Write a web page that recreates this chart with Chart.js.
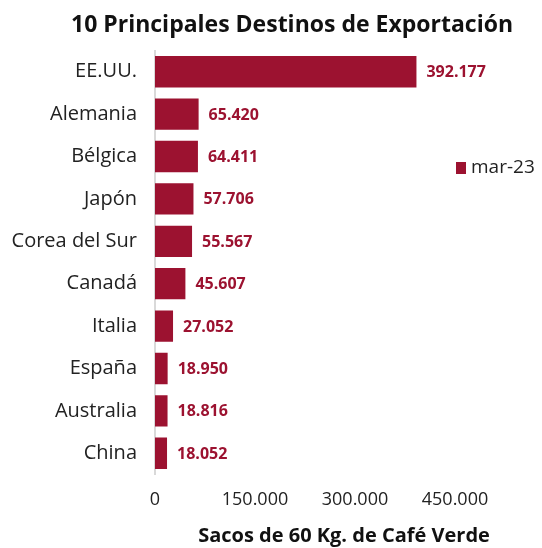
<!DOCTYPE html>
<html>
<head>
<meta charset="utf-8">
<script src="https://cdn.jsdelivr.net/npm/chart.js@4.4.0/dist/chart.umd.min.js"></script>
<style>
html,body{margin:0;padding:0;background:#fff;}
#wrap{width:542px;height:548px;position:relative;}
</style>
</head>
<body>
<div id="wrap"><canvas id="c"></canvas></div>
<script>
const categories = ["EE.UU.", "Alemania", "Bélgica", "Japón", "Corea del Sur", "Canadá", "Italia", "España", "Australia", "China"];
const seriesName = "mar-23";
const values = [392177, 65420, 64411, 57706, 55567, 45607, 27052, 18950, 18816, 18052];
const xTicks = [0, 150000, 300000, 450000];
const titleText = "10 Principales Destinos de Exportación";
const xTitle = "Sacos de 60 Kg. de Café Verde";

const BAR = "#9C1230";
const fmt = v => v.toString().replace(/\B(?=(\d{3})+(?!\d))/g, ".");

const labelPlugin = {
  id: "valueLabels",
  afterDatasetsDraw(chart) {
    const ctx = chart.ctx;
    const meta = chart.getDatasetMeta(0);
    ctx.save();
    ctx.fillStyle = BAR;
    ctx.font = "bold 16px 'Open Sans'";
    ctx.textAlign = "left";
    ctx.textBaseline = "middle";
    meta.data.forEach((bar, i) => {
      ctx.fillText(fmt(values[i]), bar.x + 10, bar.y + 1);
    });
    ctx.restore();
  }
};

const legendPlugin = {
  id: "sideLegend",
  afterDraw(chart) {
    const ctx = chart.ctx;
    const a = chart.chartArea;
    const x = a.right + 1;
    const y = 168;
    ctx.save();
    ctx.fillStyle = BAR;
    ctx.fillRect(x, y - 6, 10, 12);
    ctx.fillStyle = "#222";
    ctx.font = "19px 'Open Sans'";
    ctx.textAlign = "left";
    ctx.textBaseline = "middle";
    ctx.fillText(chart.data.datasets[0].label, x + 15, y);
    ctx.restore();
  }
};

const titleShift = {
  id: "titleShift",
  afterLayout(chart) {
    const t = chart.titleBlock;
    if (t) { t.left = 42; t.right = 542; }
    const sx = chart.scales.x;
    if (sx && !sx._shifted) {
      const orig = sx.drawTitle.bind(sx);
      sx.drawTitle = function () {
        const ctx = this.ctx;
        ctx.save();
        ctx.translate(39, 0);
        orig();
        ctx.restore();
      };
      sx._shifted = true;
    }
  }
};

new Chart(document.getElementById("c"), {
  type: "bar",
  data: {
    labels: categories,
    datasets: [{
      label: seriesName,
      data: values,
      backgroundColor: BAR,
      borderWidth: 0,
      categoryPercentage: 1,
      barPercentage: 0.74
    }]
  },
  options: {
    indexAxis: "y",
    responsive: true,
    maintainAspectRatio: false,
    animation: false,
    layout: { padding: { left: 0, right: 87, top: 0, bottom: 0 } },
    plugins: {
      legend: { display: false },
      tooltip: { enabled: false },
      title: {
        display: true,
        text: titleText,
        color: "#111",
        font: { family: "'Open Sans'", size: 23, weight: "bold" },
        padding: { top: 12, bottom: 11 }
      }
    },
    scales: {
      x: {
        min: 0,
        max: 450000,
        afterBuildTicks(scale) { scale.ticks = xTicks.map(v => ({ value: v })); },
        grid: { display: false, drawTicks: false },
        border: { display: false },
        ticks: {
          color: "#222",
          padding: 15,
          maxRotation: 0,
          font: { family: "'Open Sans'", size: 18 },
          callback: v => fmt(v)
        },
        title: {
          display: true,
          text: xTitle,
          color: "#111",
          font: { family: "'Open Sans'", size: 20, weight: "bold" },
          padding: { top: -2, bottom: 0 }
        }
      },
      y: {
        afterFit(scale) { scale.width = 155; },
        grid: { display: false, drawTicks: false },
        border: { display: true, color: "#d9d9d9", width: 2 },
        ticks: {
          color: "#222",
          padding: 18,
          font: { family: "'Open Sans'", size: 20 }
        }
      }
    }
  },
  plugins: [labelPlugin, legendPlugin, titleShift]
});
</script>
</body>
</html>
